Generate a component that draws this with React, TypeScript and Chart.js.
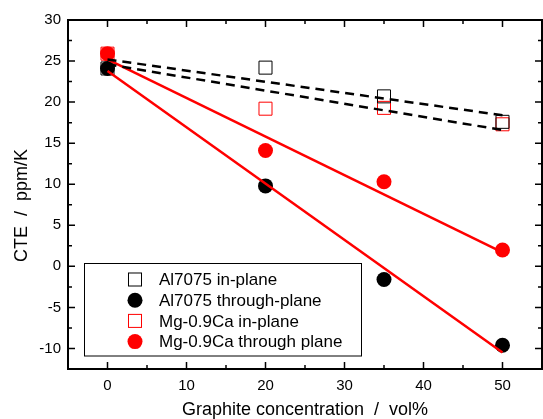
import React, { useEffect, useRef } from 'react';
import { Chart, registerables } from 'chart.js';

Chart.register(...registerables);

const FONT = '"Liberation Sans", Arial, Helvetica, sans-serif';

// axis ticks
const xTicks = [0, 10, 20, 30, 40, 50];
const xMinorTicks = [5, 15, 25, 35, 45];
const yTicks = [-10, -5, 0, 5, 10, 15, 20, 25, 30];
const yMinorTicks = [-7.5, -2.5, 2.5, 7.5, 12.5, 17.5, 22.5, 27.5];

// measured data (graphite concentration, vol%)
const concentration = [0, 20, 35, 50];
const al7075InPlane = [24.1, 24.2, 20.7, 17.6];
const al7075ThroughPlane = [24.1, 9.8, -1.6, -9.6];
const mgInPlane = [25.9, 19.2, 19.3, 17.3];
const mgThroughPlane = [25.9, 14.1, 10.3, 2.0];

// linear fit lines (end points)
const fitX = [0, 50];
const al7075InPlaneFit = [25.2, 18.4];
const mgInPlaneFit = [24.6, 16.6];
const al7075ThroughFit = [23.8, -10.5];
const mgThroughFit = [25.2, 1.7];

const legendLabels = [
  'Al7075 in-plane',
  'Al7075 through-plane',
  'Mg-0.9Ca in-plane',
  'Mg-0.9Ca through plane',
];

const xTitle = 'Graphite concentration  /  vol%';
const yTitle = 'CTE  /  ppm/K';

const toPts = (xs: number[], ys: number[]) => xs.map((x, i) => ({ x, y: ys[i] }));

const SQUARE_R = 9.2;
const CIRCLE_R = 7.5;

const framePlugin = {
  id: 'frameTicks',
  afterDraw(chart: any) {
    const { ctx, chartArea: a, scales } = chart;
    const xs = scales.x;
    const ys = scales.y;
    ctx.save();
    ctx.strokeStyle = '#000';
    ctx.lineWidth = 2;
    ctx.strokeRect(a.left, a.top, a.right - a.left, a.bottom - a.top);
    const major = 7;
    const minor = 4;
    ctx.lineWidth = 1.5;
    ctx.beginPath();
    const xt = (v: number, len: number) => {
      const p = xs.getPixelForValue(v);
      ctx.moveTo(p, a.bottom);
      ctx.lineTo(p, a.bottom - len);
      ctx.moveTo(p, a.top);
      ctx.lineTo(p, a.top + len);
    };
    const yt = (v: number, len: number) => {
      const p = ys.getPixelForValue(v);
      ctx.moveTo(a.left, p);
      ctx.lineTo(a.left + len, p);
      ctx.moveTo(a.right, p);
      ctx.lineTo(a.right - len, p);
    };
    xTicks.forEach((v) => xt(v, major));
    xMinorTicks.forEach((v) => xt(v, minor));
    yTicks.forEach((v) => yt(v, major));
    yMinorTicks.forEach((v) => yt(v, minor));
    ctx.stroke();

    // y title
    ctx.fillStyle = '#000';
    ctx.font = `18px ${FONT}`;
    ctx.textAlign = 'center';
    ctx.textBaseline = 'middle';
    ctx.translate(22, 205.5);
    ctx.rotate(-Math.PI / 2);
    ctx.fillText(yTitle, 0, 0);
    ctx.restore();

    // legend
    ctx.save();
    ctx.strokeStyle = '#000';
    ctx.lineWidth = 1;
    ctx.strokeRect(84.5, 263.5, 277, 92.5);
    ctx.font = `17px ${FONT}`;
    ctx.textAlign = 'left';
    ctx.textBaseline = 'middle';
    for (let i = 0; i < 4; i++) {
      const ds = chart.data.datasets[i];
      const cy = 279.5 + i * 20.7;
      const cx = 135;
      if (ds.pointStyle === 'rect') {
        const s = SQUARE_R * Math.SQRT1_2;
        ctx.strokeStyle = ds.borderColor;
        ctx.lineWidth = 1;
        ctx.strokeRect(cx - s, cy - s, 2 * s, 2 * s);
      } else {
        ctx.fillStyle = ds.backgroundColor;
        ctx.beginPath();
        ctx.arc(cx, cy, CIRCLE_R, 0, Math.PI * 2);
        ctx.fill();
      }
      ctx.fillStyle = '#000';
      ctx.fillText(legendLabels[i], 159, cy + 1);
    }
    ctx.restore();
  },
};

export default function App() {
  const ref = useRef<HTMLCanvasElement | null>(null);
  useEffect(() => {
    if (!ref.current) return;
    const marker = (data: number[], color: string, square: boolean) => ({
      data: toPts(concentration, data),
      showLine: false,
      pointStyle: square ? 'rect' : 'circle',
      pointRadius: square ? SQUARE_R : CIRCLE_R,
      pointBorderWidth: square ? 1 : 0,
      borderColor: color,
      backgroundColor: square ? 'rgba(0,0,0,0)' : color,
      pointBackgroundColor: square ? 'rgba(0,0,0,0)' : color,
      pointBorderColor: color,
      order: square ? 2 : 1,
    });
    const fit = (data: number[], color: string, dashed: boolean) => ({
      data: toPts(fitX, data),
      showLine: true,
      pointRadius: 0,
      borderColor: color,
      borderWidth: 2.5,
      borderDash: dashed ? [9, 6] : [],
      fill: false,
      order: 0,
    });
    const chart = new Chart(ref.current, {
      type: 'scatter',
      data: {
        datasets: [
          { label: legendLabels[0], ...marker(al7075InPlane, '#000000', true) },
          { label: legendLabels[1], ...marker(al7075ThroughPlane, '#000000', false) },
          { label: legendLabels[2], ...marker(mgInPlane, '#ff0000', true) },
          { label: legendLabels[3], ...marker(mgThroughPlane, '#ff0000', false) },
          { label: 'fit1', ...fit(al7075InPlaneFit, '#000000', true) },
          { label: 'fit2', ...fit(mgInPlaneFit, '#000000', true) },
          { label: 'fit3', ...fit(al7075ThroughFit, '#ff0000', false) },
          { label: 'fit4', ...fit(mgThroughFit, '#ff0000', false) },
        ] as any,
      },
      options: {
        animation: false,
        responsive: false,
        maintainAspectRatio: false,
        layout: { autoPadding: false, padding: { top: 20, right: 1, left: 0, bottom: 0 } },
        plugins: { legend: { display: false }, tooltip: { enabled: false } },
        scales: {
          x: {
            type: 'linear',
            min: -5,
            max: 55,
            afterBuildTicks: (s: any) => {
              s.ticks = xTicks.map((v) => ({ value: v }));
            },
            afterFit: (s: any) => {
              s.height = 50;
              s.paddingLeft = 0;
              s.paddingRight = 0;
            },
            grid: { display: false, drawTicks: false },
            border: { display: false },
            ticks: { color: '#000', font: { family: FONT, size: 15 }, padding: 8, maxRotation: 0 },
            title: {
              display: true,
              text: xTitle,
              color: '#000',
              font: { family: FONT, size: 18, lineHeight: 1 },
              padding: { top: 0, bottom: 0 },
            },
          },
          y: {
            type: 'linear',
            min: -12.5,
            max: 30,
            afterBuildTicks: (s: any) => {
              s.ticks = yTicks.map((v) => ({ value: v }));
            },
            afterFit: (s: any) => {
              s.width = 68;
              s.paddingTop = 0;
              s.paddingBottom = 0;
            },
            grid: { display: false, drawTicks: false },
            border: { display: false },
            ticks: { color: '#000', font: { family: FONT, size: 15 }, padding: 7 },
          },
        },
      } as any,
      plugins: [framePlugin],
    });
    return () => chart.destroy();
  }, []);
  return (
    <div style={{ position: 'absolute', left: 0, top: 0, width: 543, height: 419, background: '#fff' }}>
      <canvas ref={ref} width={543} height={419} />
    </div>
  );
}
